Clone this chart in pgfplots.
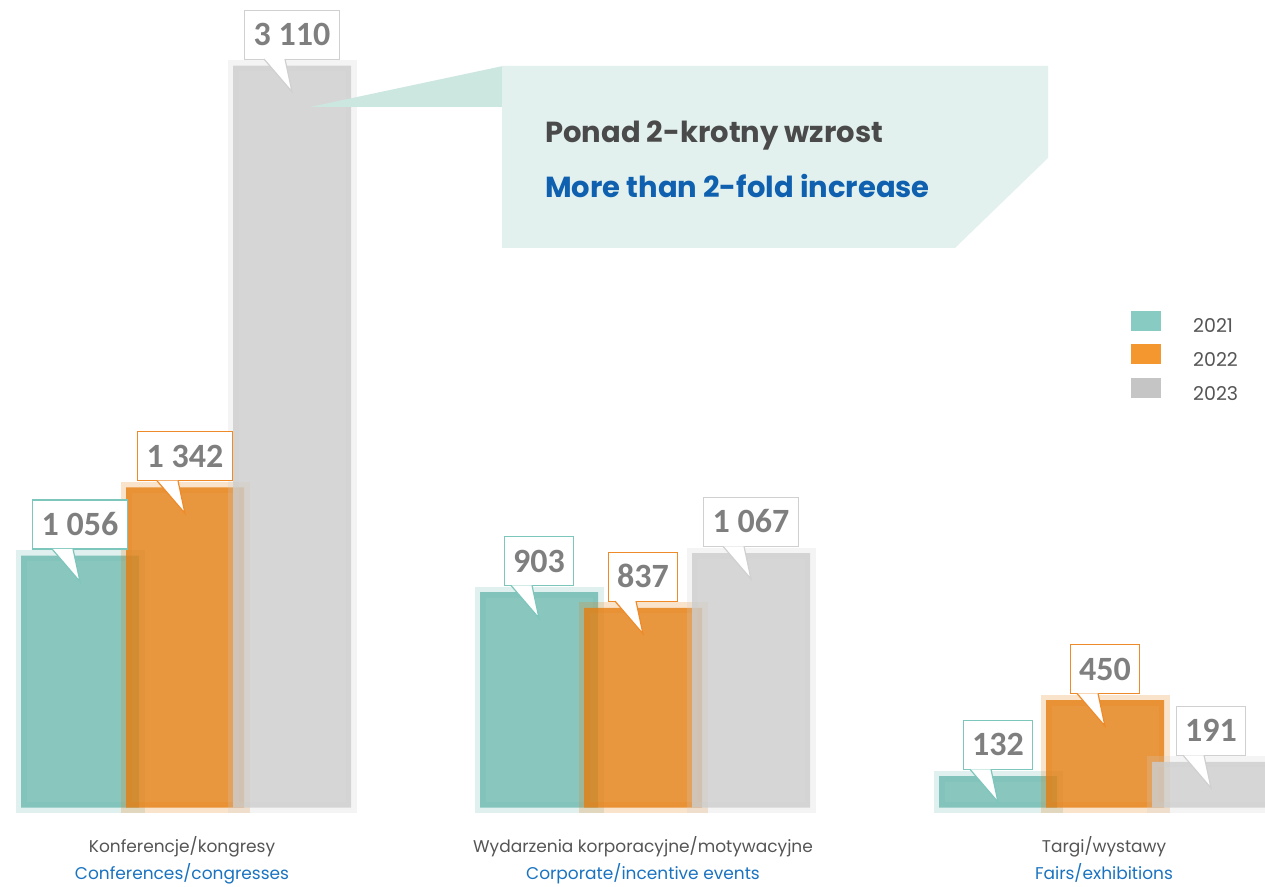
\documentclass[border=0pt]{standalone}
\usepackage{pgfplots}
\pgfplotsset{compat=1.18}
\usepackage{fontspec}
\setmainfont{Poppins}
\newfontfamily\valfont{Carlito}

\definecolor{tealb}{RGB}{110,185,176}
\definecolor{orangeb}{RGB}{228,128,20}
\definecolor{grayb}{RGB}{205,205,205}
\definecolor{legteal}{RGB}{108,191,182}
\definecolor{legorange}{RGB}{240,128,0}
\definecolor{leggray}{RGB}{184,184,184}
\definecolor{tealline}{RGB}{125,198,188}
\definecolor{orangeline}{RGB}{238,138,42}
\definecolor{grayline}{RGB}{208,208,208}
\definecolor{valgray}{RGB}{127,127,127}
\definecolor{titlegray}{RGB}{74,74,74}
\definecolor{titleblue}{RGB}{16,96,176}
\definecolor{catgray}{RGB}{85,85,85}
\definecolor{catblue}{RGB}{26,115,192}
\definecolor{boxfill}{RGB}{226,241,238}
\definecolor{pointfill}{RGB}{204,230,224}

\tikzset{
  callout/.style={draw=#1, fill=white, line width=1.2pt, text=valgray,
    font=\valfont\bfseries\fontsize{34}{34}\selectfont,
    text height=22pt, text depth=0pt, minimum height=49pt,
    inner xsep=9pt, inner ysep=0pt, anchor=south, yshift=6pt,
    fill opacity=1, draw opacity=1, text opacity=1,
    append after command={([xshift=-28pt,yshift=0.7pt]\tikzlastnode.south)
      edge[draw=#1, fill=white, line width=1.2pt, fill opacity=1, draw opacity=1,
        to path={-- ++(28pt,-32.7pt) -- ++(-7pt,32.7pt)}]
      ([xshift=-7pt,yshift=0.7pt]\tikzlastnode.south)}}
}
\pgfplotsset{
  halo/.style={draw=#1, draw opacity=0.22, line width=11pt, fill=none, bar width=118, bar shift=0pt, forget plot},
  core/.style={fill=#1, fill opacity=0.82, draw=none, bar width=118, bar shift=0pt},
  vals/.style={draw=none, fill=none, bar width=118, bar shift=0pt, forget plot,
    nodes near coords={\pgfmathprintnumber[assume math mode=true, 1000 sep={\ }]{\pgfplotspointmeta}},
    every node near coord/.append style={callout=#1}}
}

\begin{document}
\begin{tikzpicture}
\begin{axis}[
  scale only axis, width=1265pt, height=886pt,
  xmin=0, xmax=1265, ymin=-329.1, ymax=3385.7,
  ybar,
  axis line style={draw=none}, tick style={draw=none},
  ytick=\empty,
  xtick={182,643,1104},
  xticklabels={
    {\color{catgray}Konferencje/kongresy\\\color{catblue}Conferences/congresses},
    {\color{catgray}Wydarzenia korporacyjne/motywacyjne\\\color{catblue}Corporate/incentive events},
    {\color{catgray}Targi/wystawy\\\color{catblue}Fairs/exhibitions}},
  xticklabel style={align=center, anchor=north, yshift=57pt, font=\fontsize{17}{27}\selectfont},
  legend style={at={(rel axis cs:0.8917,0.652)}, anchor=north west, draw=none, fill=none,
    font=\fontsize{19}{19}\selectfont, text=catgray, row sep=10pt,
    cells={anchor=west}, nodes={inner sep=0pt},
    /tikz/every odd column/.append style={column sep=32pt}},
]
% 2021
\addplot[halo=tealb] coordinates {(80,1056) (539,903) (998,132)};
\addplot[core=tealb,
  legend image code/.code={\fill[legteal] (0pt,-4pt) rectangle (30pt,16pt);}]
  coordinates {(80,1056) (539,903) (998,132)};
\addlegendentry{2021}
% 2022
\addplot[halo=orangeb] coordinates {(185,1342) (643,837) (1105,450)};
\addplot[core=orangeb,
  legend image code/.code={\fill[legorange] (0pt,-4pt) rectangle (30pt,16pt);}]
  coordinates {(185,1342) (643,837) (1105,450)};
\addlegendentry{2022}
% 2023
\addplot[halo=grayb] coordinates {(292,3110) (751,1067) (1211,191)};
\addplot[core=grayb,
  legend image code/.code={\fill[leggray] (0pt,-4pt) rectangle (30pt,16pt);}]
  coordinates {(292,3110) (751,1067) (1211,191)};
\addlegendentry{2023}
% value callouts
\addplot[vals=tealline] coordinates {(80,1056) (539,903) (998,132)};
\addplot[vals=orangeline] coordinates {(185,1342) (643,837) (1105,450)};
\addplot[vals=grayline] coordinates {(292,3110) (751,1067) (1211,191)};
\end{axis}
\begin{scope}[x=1pt, y=-1pt, yshift=886pt]
  \fill[pointfill] (310,107) -- (503,66) -- (503,107) -- cycle;
  \fill[boxfill] (502,66) -- (1048,66) -- (1048,158) -- (955,248) -- (502,248) -- cycle;
  \node[anchor=base west, inner sep=0pt, text=titlegray, font=\bfseries\fontsize{29}{29}\selectfont] at (545,143) {Ponad 2-krotny wzrost};
  \node[anchor=base west, inner sep=0pt, text=titleblue, font=\bfseries\fontsize{29}{29}\selectfont] at (545,198) {More than 2-fold increase};
\end{scope}
\pgfresetboundingbox
\path[use as bounding box] (0,0) rectangle (1265pt,886pt);
\end{tikzpicture}
\end{document}
